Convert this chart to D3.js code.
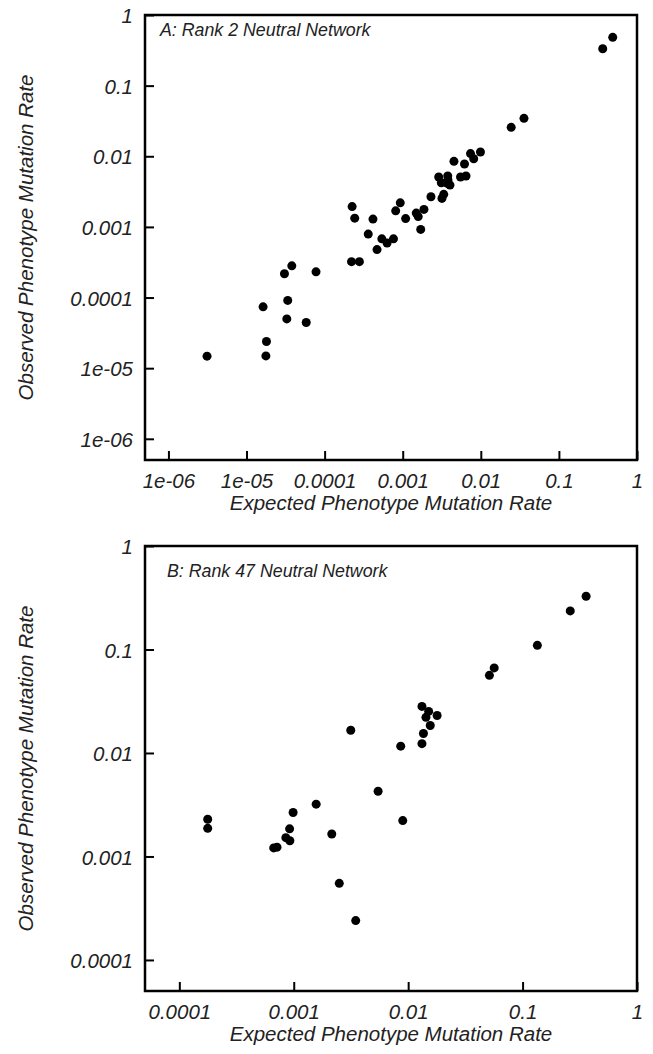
<!DOCTYPE html>
<html>
<head>
    <meta charset="utf-8">
    <title>Phenotype Mutation Rates</title>
    <script type="text/javascript" src="https://cdn.jsdelivr.net/npm/d3@7/dist/d3.min.js"></script>
</head>
<body>
<div id="chart"></div>
</body>
</html>

<style type="text/css">
body {
  margin: 0;
  background: #fff;
}

text {
  font-family: "Liberation Sans", Arial, sans-serif;
  font-style: italic;
  fill: #222;
}

.tick line {
  stroke: #000;
  stroke-width: 2px;
}
</style>

<script>

// panel A: rank 2 neutral network
var expectedA = [0.489, 0.364, 0.0357, 0.0245, 0.0099, 0.00738, 0.00811, 0.00453, 0.00618, 0.00646,
                 0.0055, 0.00289, 0.00377, 0.00312, 0.00372, 0.00403, 0.0038, 0.00335, 0.00318, 0.0023,
                 0.00093, 0.000813, 0.000225, 0.000243, 0.000416, 0.00109, 0.00149, 0.00187, 0.00158, 0.0017,
                 0.000362, 0.00054, 0.000762, 0.00063, 0.000469, 0.000221, 0.000279, 3.8e-5, 3.06e-5, 7.76e-5,
                 1.63e-5, 3.37e-5, 3.28e-5, 5.81e-5, 1.8e-5, 1.77e-5, 3.12e-6];
var observedA = [0.483, 0.333, 0.0344, 0.0257, 0.01148, 0.01092, 0.00922, 0.00847, 0.00776, 0.00525,
                 0.00508, 0.00508, 0.00525, 0.00421, 0.00413, 0.00391, 0.0046, 0.00289, 0.00253, 0.00267,
                 0.00219, 0.00169, 0.00194, 0.00133, 0.00129, 0.00131, 0.00157, 0.00177, 0.0014, 0.000922,
                 0.000791, 0.000678, 0.000678, 0.00059, 0.000477, 0.000322, 0.000322, 0.000281, 0.000217, 0.000231,
                 7.38e-5, 9.1e-5, 4.98e-5, 4.44e-5, 2.39e-5, 1.49e-5, 1.48e-5];

// panel B: rank 47 neutral network
var expectedB = [0.359, 0.261, 0.1346, 0.0565, 0.0513, 0.0132, 0.0151, 0.0179, 0.0143, 0.0156,
                 0.0136, 0.0132, 0.00861, 0.00315, 0.00546, 0.00897, 0.00157, 0.000987, 0.000177, 0.000177,
                 0.00092, 0.000853, 0.000925, 0.000668, 0.000714, 0.00215, 0.0025, 0.00348];
var observedB = [0.327, 0.236, 0.1096, 0.0664, 0.0563, 0.0282, 0.0252, 0.023, 0.0221, 0.01845,
                 0.01544, 0.0123, 0.01164, 0.0166, 0.00427, 0.00222, 0.0032, 0.00266, 0.00229, 0.00187,
                 0.00185, 0.00152, 0.00142, 0.00121, 0.00123, 0.00165, 0.00055, 0.00024];

var ticksA = [1e-6, 1e-5, 1e-4, 1e-3, 1e-2, 1e-1, 1];
var tickLabelsA = ["1e-06", "1e-05", "0.0001", "0.001", "0.01", "0.1", "1"];
var ticksB = [1e-4, 1e-3, 1e-2, 1e-1, 1];
var tickLabelsB = ["0.0001", "0.001", "0.01", "0.1", "1"];

var width = 653,
    height = 1054;

var svg = d3.select("#chart")
    .append("svg")
    .attr("width", width)
    .attr("height", height);

function drawPanel(opts) {
    var left = 145, right = 637;

    var x = d3.scaleLog().domain([opts.min, 1]).range([left, right]);
    var y = d3.scaleLog().domain([opts.min, 1]).range([opts.bottom, opts.top]);

    var g = svg.append("g");

    var fmt = function(d) { return opts.labels[opts.ticks.indexOf(d)]; };

    // ticks point inward
    var xAxis = g.append("g")
        .attr("transform", "translate(0," + opts.bottom + ")")
        .call(d3.axisBottom(x).tickValues(opts.ticks).tickFormat(fmt).tickSizeInner(-9).tickSizeOuter(0).tickPadding(13));
    var yAxis = g.append("g")
        .attr("transform", "translate(" + left + ",0)")
        .call(d3.axisLeft(y).tickValues(opts.ticks).tickFormat(fmt).tickSizeInner(-9).tickSizeOuter(0).tickPadding(12));

    [xAxis, yAxis].forEach(function(a) {
        a.select(".domain").remove();
        a.selectAll("text")
            .style("font-size", "20.5px")
            .attr("fill", "#222");
    });
    yAxis.selectAll("text").attr("dy", "0.37em");

    // frame
    g.append("rect")
        .attr("x", left)
        .attr("y", opts.top)
        .attr("width", right - left)
        .attr("height", opts.bottom - opts.top)
        .attr("fill", "none")
        .attr("stroke", "#000")
        .attr("stroke-width", 2.5);

    g.append("text")
        .attr("x", opts.titleX)
        .attr("y", opts.titleY)
        .style("font-size", "17.8px")
        .text(opts.title);

    g.selectAll("circle")
        .data(opts.xs)
        .enter().append("circle")
        .attr("cx", function(d) { return x(d); })
        .attr("cy", function(d, i) { return y(opts.ys[i]); })
        .attr("r", 4.5)
        .attr("fill", "#000");

    g.append("text")
        .attr("x", (left + right) / 2)
        .attr("y", opts.bottom + 50)
        .attr("text-anchor", "middle")
        .style("font-size", "20.5px")
        .text("Expected Phenotype Mutation Rate");

    g.append("text")
        .attr("transform", "rotate(-90)")
        .attr("x", -(opts.top + opts.bottom) / 2)
        .attr("y", 33)
        .attr("text-anchor", "middle")
        .style("font-size", "20.5px")
        .text("Observed Phenotype Mutation Rate");
}

drawPanel({top: 15, bottom: 460, min: Math.pow(10, -6.3), ticks: ticksA, labels: tickLabelsA,
           xs: expectedA, ys: observedA, title: "A: Rank 2 Neutral Network", titleX: 160, titleY: 36});
drawPanel({top: 546, bottom: 991, min: Math.pow(10, -4.3), ticks: ticksB, labels: tickLabelsB,
           xs: expectedB, ys: observedB, title: "B: Rank 47 Neutral Network", titleX: 167, titleY: 577});

</script>
